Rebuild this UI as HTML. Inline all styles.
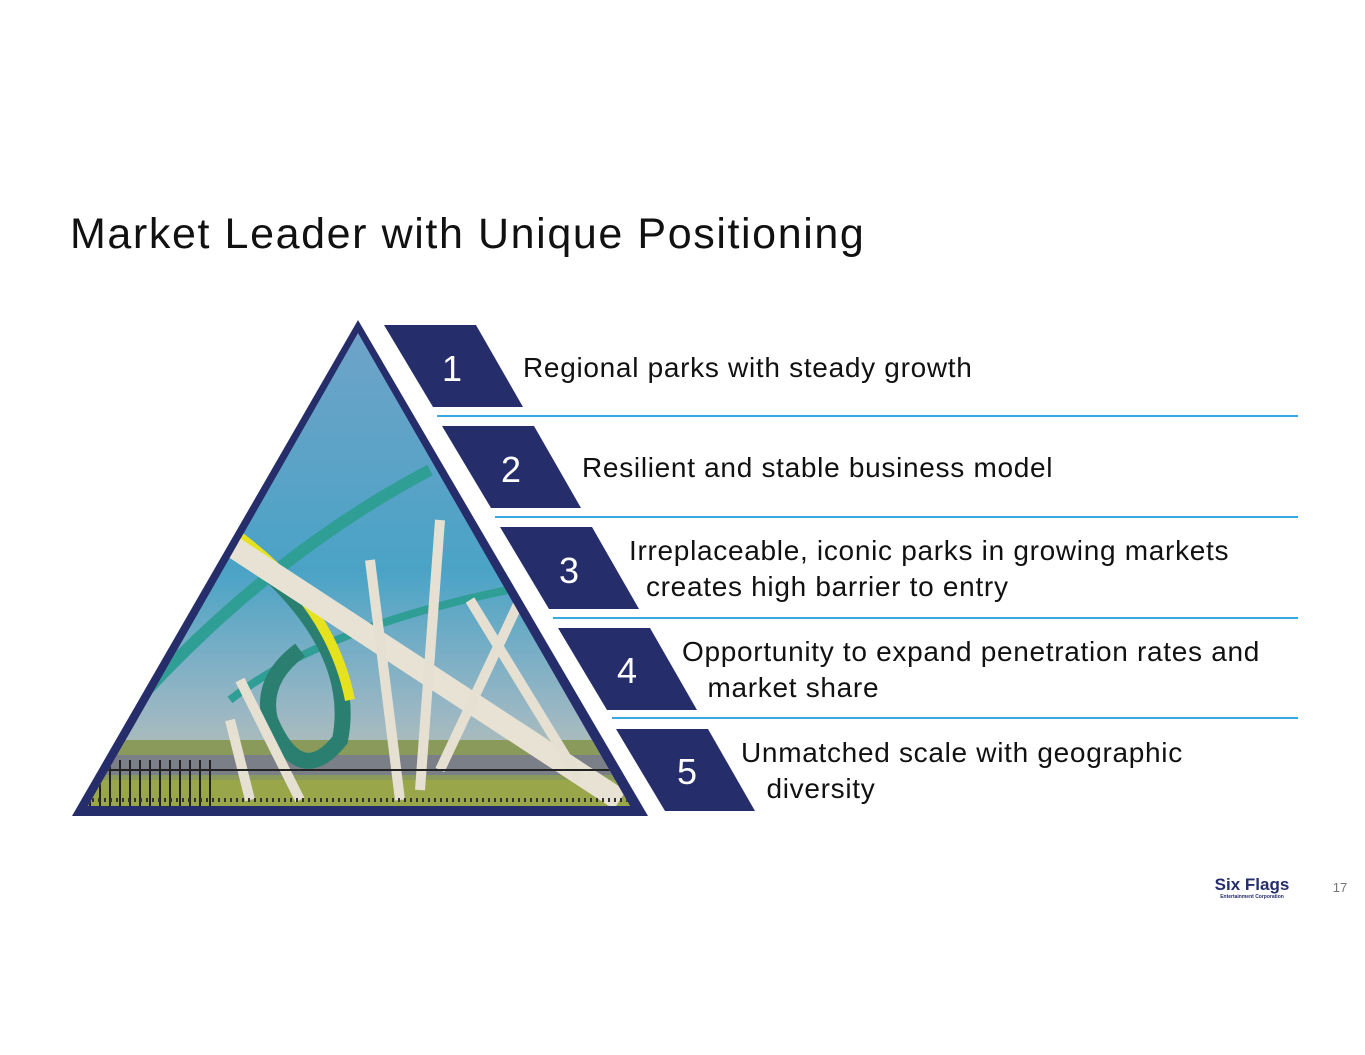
<!DOCTYPE html>
<html><head><meta charset="utf-8"><style>
html,body{margin:0;padding:0;background:#fff}
body{width:1365px;height:1055px;position:relative;overflow:hidden;font-family:"Liberation Sans","DejaVu Sans",sans-serif}
.t{position:absolute;color:#111;font-size:28px;line-height:36px;white-space:nowrap;letter-spacing:0.7px}
</style></head><body>
<div style="position:absolute;left:70px;top:210px;font-size:43px;color:#111;white-space:nowrap;letter-spacing:1.6px">Market Leader with Unique Positioning</div>
<svg width="1365" height="1055" style="position:absolute;left:0;top:0">
<defs>
<clipPath id="c"><polygon points="358,333 88,806 630,806"/></clipPath>
<linearGradient id="sky" x1="0" y1="0" x2="0" y2="1">
<stop offset="0" stop-color="#6fa3c8"/><stop offset="0.5" stop-color="#4aa3c6"/><stop offset="0.8" stop-color="#9bb7c4"/><stop offset="1" stop-color="#c9c6a8"/></linearGradient>
</defs>
<polygon points="358,320 72,816 648,816" fill="#252e6b"/>
<g clip-path="url(#c)">
<rect x="80" y="330" width="560" height="480" fill="url(#sky)"/>
<rect x="80" y="740" width="560" height="70" fill="#8a9a5a"/>
<rect x="80" y="755" width="560" height="20" fill="#7a7f88"/>
<rect x="80" y="780" width="560" height="30" fill="#9aa64a"/>
<path d="M120,720 Q260,560 430,470" stroke="#2f9e95" stroke-width="12" fill="none"/>
<path d="M230,700 Q330,620 560,580" stroke="#2f9e95" stroke-width="8" fill="none"/>
<path d="M230,540 Q360,640 340,740 Q300,790 270,720 Q260,680 300,650" stroke="#2b7f70" stroke-width="16" fill="none"/>
<path d="M230,530 Q330,600 350,700" stroke="#e6e21e" stroke-width="10" fill="none"/>
<path d="M230,545 L620,800" stroke="#e8e2d4" stroke-width="22"/>
<path d="M240,680 L300,800 M370,560 L400,800 M440,520 L420,790 M470,600 L580,780 M520,600 L440,770 M230,720 L250,800" stroke="#e6e0d2" stroke-width="10"/>
<path d="M80,770 H640" stroke="#222" stroke-width="2"/>
<g stroke="#222" stroke-width="2">
<path d="M90,760V806M100,760V806M110,760V806M120,760V806M130,760V806M140,760V806M150,760V806M160,760V806M170,760V806M180,760V806M190,760V806M200,760V806M210,760V806"/>
</g>
<path d="M80,800 H640" stroke="#333" stroke-width="4" stroke-dasharray="2 4"/>
</g>
<g fill="#252e6b">
<polygon points="384,325 476,325 523,407 433,407"/>
<polygon points="442,426 534,426 581,508 491,508"/>
<polygon points="500,527 592,527 639,609 549,609"/>
<polygon points="558,628 650,628 697,710 607,710"/>
<polygon points="616,729 708,729 755,811 665,811"/>
</g>
<g stroke="#3aa8e0" stroke-width="2">
<line x1="437" y1="416" x2="1298" y2="416"/>
<line x1="495" y1="517" x2="1298" y2="517"/>
<line x1="553" y1="618" x2="1298" y2="618"/>
<line x1="612" y1="718" x2="1298" y2="718"/>
</g>
<g fill="#fff" font-family="Liberation Sans, sans-serif" font-size="36" text-anchor="middle">
<text x="452" y="381">1</text><text x="511" y="482">2</text><text x="569" y="583">3</text><text x="627" y="683">4</text><text x="687" y="784">5</text>
</g>
<text x="1252" y="890" font-family="Liberation Sans, sans-serif" font-weight="bold" font-size="17" fill="#252e6b" text-anchor="middle">Six Flags</text>
<text x="1252" y="898" font-family="Liberation Sans, sans-serif" font-weight="bold" font-size="5" fill="#252e6b" text-anchor="middle">Entertainment Corporation</text>
<text x="1340" y="892" font-family="Liberation Sans, sans-serif" font-size="13" fill="#777" text-anchor="middle">17</text>
</svg>
<div class="t" style="left:523px;top:350px">Regional parks with steady growth</div>
<div class="t" style="left:582px;top:450px">Resilient and stable business model</div>
<div class="t" style="left:629px;top:533px">Irreplaceable, iconic parks in growing markets<br>&nbsp;&nbsp;creates high barrier to entry</div>
<div class="t" style="left:682px;top:634px">Opportunity to expand penetration rates and<br>&nbsp;&nbsp;&nbsp;market share</div>
<div class="t" style="left:741px;top:735px">Unmatched scale with geographic<br>&nbsp;&nbsp;&nbsp;diversity</div>
</body></html>
